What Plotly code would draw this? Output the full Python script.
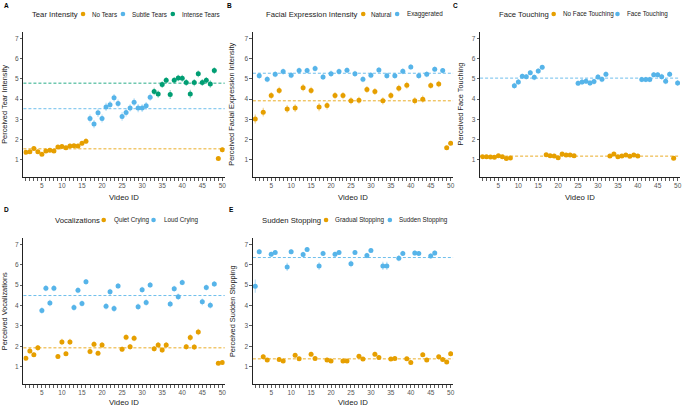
import plotly.graph_objects as go

W, H = 685, 409
FONT = "Liberation Sans, Arial, Helvetica, sans-serif"

video_ids = list(range(1, 51))
tick_labels = [str(v) if v % 5 == 0 else "" for v in video_ids]
x_label = "Video ID"

ORANGE = "#E69F00"
BLUE = "#56B4E9"
GREEN = "#009E73"

# ---------------- Panel A: Tear Intensity ----------------
a_title = "Tear Intensity"
a_ylabel = "Perceived Tear Intensity"
a_names = ["No Tears", "Subtle Tears", "Intense Tears"]
a_colors = [ORANGE, BLUE, GREEN]
a_group = [0] * 16 + [1] * 16 + [2] * 16 + [0] * 2
a_values = [1.38, 1.41, 1.57, 1.41, 1.28, 1.44, 1.48, 1.44, 1.64, 1.66,
            1.60, 1.69, 1.70, 1.69, 1.82, 1.93, 3.05, 2.77, 3.33, 3.05,
            3.62, 3.72, 4.07, 3.79, 3.15, 3.34, 3.57, 3.85, 3.56, 3.56,
            3.67, 4.10, 4.38, 4.25, 4.72, 4.93, 4.23, 4.93, 5.05, 5.03,
            4.82, 4.26, 4.82, 5.25, 4.82, 4.93, 4.75, 5.41, 1.07, 1.50]
a_err = [0.10, 0.09, 0.10, 0.09, 0.08, 0.09, 0.10, 0.09, 0.10, 0.11,
         0.10, 0.11, 0.10, 0.11, 0.12, 0.14, 0.20, 0.20, 0.21, 0.20,
         0.20, 0.19, 0.18, 0.19, 0.21, 0.20, 0.18, 0.19, 0.20, 0.19,
         0.19, 0.18, 0.18, 0.18, 0.17, 0.16, 0.22, 0.16, 0.16, 0.17,
         0.17, 0.21, 0.18, 0.17, 0.17, 0.16, 0.19, 0.17, 0.08, 0.12]
a_means = [1.55, 3.53, 4.79]

# ---------------- Panel B: Facial Expression Intensity ----------------
b_title = "Facial Expression Intensity"
b_ylabel = "Perceived Facial Expression Intensity"
b_names = ["Natural", "Exaggerated"]
b_colors = [ORANGE, BLUE]
b_group = [0, 1] * 24 + [0, 0]
b_values = [3.02, 5.16, 3.36, 4.98, 4.18, 5.23, 4.43, 5.36, 3.52, 5.18,
            3.56, 5.41, 4.57, 5.41, 4.43, 5.51, 3.61, 5.10, 3.69, 5.25,
            4.18, 5.36, 4.18, 5.43, 3.92, 5.25, 3.95, 4.98, 4.48, 5.18,
            4.38, 5.44, 3.92, 5.16, 4.18, 5.16, 4.54, 5.38, 4.69, 5.59,
            3.92, 5.16, 4.00, 5.23, 4.67, 5.48, 4.75, 5.41, 1.60, 1.82]
b_err = [0.22, 0.15, 0.22, 0.15, 0.18, 0.15, 0.18, 0.15, 0.19, 0.15,
         0.19, 0.15, 0.18, 0.14, 0.18, 0.15, 0.20, 0.15, 0.20, 0.16,
         0.18, 0.15, 0.18, 0.13, 0.17, 0.15, 0.17, 0.15, 0.17, 0.15,
         0.17, 0.14, 0.18, 0.15, 0.18, 0.15, 0.17, 0.15, 0.17, 0.13,
         0.17, 0.15, 0.18, 0.15, 0.16, 0.13, 0.16, 0.13, 0.09, 0.09]
b_means = [3.92, 5.28]

# ---------------- Panel C: Face Touching ----------------
c_title = "Face Touching"
c_ylabel = "Perceived Face Touching"
c_names = ["No Face Touching", "Face Touching"]
c_colors = [ORANGE, BLUE]
c_group = [0] * 8 + [1] * 8 + [0] * 8 + [1] * 8 + [0] * 8 + [1] * 8 + [0, 1]
c_values = [1.16, 1.16, 1.15, 1.13, 1.21, 1.16, 1.07, 1.10, 4.66, 4.85,
            5.13, 5.11, 5.31, 5.08, 5.39, 5.57, 1.26, 1.21, 1.20, 1.11,
            1.30, 1.25, 1.25, 1.21, 4.79, 4.85, 4.89, 4.80, 4.87, 5.10,
            4.98, 5.23, 1.20, 1.30, 1.16, 1.20, 1.25, 1.18, 1.25, 1.20,
            4.97, 4.97, 4.97, 5.21, 5.20, 5.11, 4.89, 5.23, 1.08, 4.80]
c_err = [0.07, 0.07, 0.07, 0.07, 0.08, 0.07, 0.06, 0.07, 0.15, 0.14,
         0.13, 0.13, 0.13, 0.14, 0.13, 0.12, 0.08, 0.08, 0.08, 0.07,
         0.08, 0.08, 0.08, 0.08, 0.13, 0.14, 0.14, 0.14, 0.14, 0.13,
         0.14, 0.13, 0.08, 0.08, 0.07, 0.08, 0.08, 0.07, 0.08, 0.08,
         0.14, 0.14, 0.14, 0.13, 0.13, 0.14, 0.15, 0.13, 0.07, 0.15]
c_means = [1.19, 5.04]

# ---------------- Panel D: Vocalizations ----------------
d_title = "Vocalizations"
d_ylabel = "Perceived Vocalizations"
d_names = ["Quiet Crying", "Loud Crying"]
d_colors = [ORANGE, BLUE]
d_group = ([0] * 4 + [1] * 4) * 6 + [0, 0]
d_values = [1.42, 1.78, 1.59, 1.93, 3.76, 4.85, 4.12, 4.85, 1.50, 2.22,
            1.64, 2.22, 3.90, 4.75, 4.10, 5.16, 1.75, 2.11, 1.67, 2.07,
            3.97, 4.67, 3.85, 4.96, 1.86, 2.45, 1.98, 2.40, 3.94, 4.77,
            4.15, 5.01, 1.88, 2.07, 1.82, 2.07, 4.08, 4.82, 4.43, 5.13,
            1.98, 2.43, 1.97, 2.71, 4.18, 4.88, 4.02, 5.06, 1.18, 1.21]
d_err = [0.10, 0.13, 0.11, 0.14, 0.16, 0.15, 0.16, 0.15, 0.11, 0.15,
         0.11, 0.15, 0.16, 0.15, 0.15, 0.14, 0.13, 0.14, 0.12, 0.14,
         0.16, 0.15, 0.17, 0.14, 0.13, 0.15, 0.14, 0.15, 0.16, 0.15,
         0.16, 0.14, 0.13, 0.14, 0.13, 0.14, 0.16, 0.15, 0.16, 0.14,
         0.14, 0.16, 0.14, 0.16, 0.16, 0.15, 0.16, 0.14, 0.07, 0.07]
d_means = [1.93, 4.49]

# ---------------- Panel E: Sudden Stopping ----------------
e_title = "Sudden Stopping"
e_ylabel = "Perceived Sudden Stopping"
e_names = ["Gradual Stopping", "Sudden Stopping"]
e_colors = [ORANGE, BLUE]
e_group = [1, 1] + [0, 0, 1, 1] * 11 + [0, 0, 0, 0]
e_values = [4.95, 6.63, 1.49, 1.33, 6.51, 6.60, 1.36, 1.28, 5.89, 6.63,
            1.57, 1.39, 6.50, 6.74, 1.62, 1.41, 5.93, 6.55, 1.34, 1.28,
            6.51, 6.60, 1.28, 1.28, 6.04, 6.60, 1.52, 1.38, 6.45, 6.69,
            1.62, 1.46, 5.94, 5.94, 1.38, 1.41, 6.32, 6.55, 1.39, 1.21,
            6.57, 6.55, 1.59, 1.34, 6.43, 6.57, 1.49, 1.36, 1.24, 1.64]
e_err = [0.33, 0.12, 0.11, 0.09, 0.12, 0.11, 0.10, 0.09, 0.20, 0.12,
         0.11, 0.10, 0.13, 0.10, 0.12, 0.10, 0.19, 0.13, 0.10, 0.09,
         0.12, 0.12, 0.09, 0.09, 0.17, 0.12, 0.11, 0.10, 0.13, 0.11,
         0.12, 0.10, 0.20, 0.20, 0.10, 0.10, 0.15, 0.13, 0.10, 0.09,
         0.12, 0.12, 0.11, 0.10, 0.13, 0.12, 0.10, 0.10, 0.09, 0.12]
e_means = [1.39, 6.35]


def rgba(hex_color, a):
    h = hex_color.lstrip("#")
    r, g, b = int(h[0:2], 16), int(h[2:4], 16), int(h[4:6], 16)
    return f"rgba({r},{g},{b},{a})"


# layout geometry (pixels)
panels = [
    dict(letter="A", title=a_title, ylabel=a_ylabel, names=a_names, colors=a_colors,
         group=a_group, values=a_values, err=a_err, means=a_means,
         xpx=(23.5, 225.4), ypx=(31.7, 177.0), letter_px=(2, 5), leg_y=14,
         ytitle_x=4.5, xtitle_y=197,
         leg_title_x=30, leg_dots=[83.3, 123.3, 173.3], leg_text=[90.7, 130.7, 180.7]),
    dict(letter="B", title=b_title, ylabel=b_ylabel, names=b_names, colors=b_colors,
         group=b_group, values=b_values, err=b_err, means=b_means,
         xpx=(253.6, 454.4), ypx=(31.7, 177.0), letter_px=(226, 5), leg_y=14,
         ytitle_x=232, xtitle_y=197,
         leg_title_x=264.3, leg_dots=[364.3, 398.3], leg_text=[370.3, 406.0]),
    dict(letter="C", title=c_title, ylabel=c_ylabel, names=c_names, colors=c_colors,
         group=c_group, values=c_values, err=c_err, means=c_means,
         xpx=(481.5, 682.0), ypx=(31.7, 177.0), letter_px=(452, 5), leg_y=14,
         ytitle_x=461.5, xtitle_y=197,
         leg_title_x=498.3, leg_dots=[555.3, 619.3], leg_text=[562.7, 627.3]),
    dict(letter="D", title=d_title, ylabel=d_ylabel, names=d_names, colors=d_colors,
         group=d_group, values=d_values, err=d_err, means=d_means,
         xpx=(23.5, 225.4), ypx=(237.5, 384.0), letter_px=(2, 209), leg_y=220,
         ytitle_x=4.5, xtitle_y=402.5,
         leg_title_x=52.7, leg_dots=[104.0, 154.0], leg_text=[112.0, 162.0]),
    dict(letter="E", title=e_title, ylabel=e_ylabel, names=e_names, colors=e_colors,
         group=e_group, values=e_values, err=e_err, means=e_means,
         xpx=(253.6, 454.4), ypx=(237.5, 384.0), letter_px=(228, 209), leg_y=220,
         ytitle_x=233, xtitle_y=402.5,
         leg_title_x=261.0, leg_dots=[327.0, 391.0], leg_text=[334.3, 398.3]),
]

fig = go.Figure()
layout = dict(
    width=W, height=H,
    margin=dict(l=0, r=0, t=0, b=0),
    paper_bgcolor="white", plot_bgcolor="white",
    font=dict(family=FONT, size=7, color="#222"),
    showlegend=False,
    hovermode=False,
)
annotations = []
shapes = []

for i, p in enumerate(panels):
    k = "" if i == 0 else str(i + 1)
    xa, ya = "x" + k, "y" + k
    for g, (name, color) in enumerate(zip(p["names"], p["colors"])):
        xs = [v for v, gg in zip(video_ids, p["group"]) if gg == g]
        ys = [v for v, gg in zip(p["values"], p["group"]) if gg == g]
        es = [v for v, gg in zip(p["err"], p["group"]) if gg == g]
        fig.add_trace(go.Scatter(
            x=xs, y=ys, mode="markers", name=name, xaxis=xa, yaxis=ya,
            marker=dict(color=color, size=5.0, line=dict(width=0)),
            error_y=dict(type="data", array=es, visible=True, color=rgba(color, 0.45),
                         thickness=1.1, width=0),
            showlegend=False,
        ))
        shapes.append(dict(
            type="line", xref=xa + " domain", yref=ya, x0=0, x1=1,
            y0=p["means"][g], y1=p["means"][g],
            line=dict(color=rgba(color, 0.85), width=1, dash="3px,2px"), layer="below",
        ))

    x0, x1 = p["xpx"]
    yt, yb = p["ypx"]
    layout["xaxis" + k] = dict(
        domain=[x0 / W, x1 / W], anchor=ya, range=[0.4, 50.6],
        tickmode="array", tickvals=video_ids, ticktext=tick_labels,
        ticks="outside", ticklen=2.5, tickwidth=0.8, tickcolor="#333",
        showline=True, linecolor="#222", linewidth=1, showgrid=False, zeroline=False,
        tickfont=dict(size=6.5, color="#555", family=FONT),
        fixedrange=True,
    )
    layout["yaxis" + k] = dict(
        domain=[1 - yb / H, 1 - yt / H], anchor=xa, range=[0.16, 7.33],
        tickmode="array", tickvals=[1, 2, 3, 4, 5, 6, 7],
        ticks="outside", ticklen=2.5, tickwidth=0.8, tickcolor="#333",
        showline=True, linecolor="#222", linewidth=1, showgrid=False, zeroline=False,
        tickfont=dict(size=6.5, color="#555", family=FONT),
        fixedrange=True,
    )

    # axis titles
    annotations.append(dict(
        text=x_label, xref="paper", yref="paper",
        x=(x0 + x1) / 2 / W, y=1 - p["xtitle_y"] / H, xanchor="center", yanchor="middle",
        showarrow=False, font=dict(size=7.8, color="#222", family=FONT),
    ))
    annotations.append(dict(
        text=p["ylabel"], xref="paper", yref="paper", textangle=-90,
        x=p["ytitle_x"] / W, y=1 - (yt + yb) / 2 / H, xanchor="center", yanchor="middle",
        showarrow=False, font=dict(size=7.4, color="#222", family=FONT),
    ))

    # panel letter
    lx, ly = p["letter_px"]
    annotations.append(dict(
        text="<b>" + p["letter"] + "</b>", xref="paper", yref="paper",
        x=lx / W, y=1 - ly / H, xanchor="left", yanchor="middle", showarrow=False,
        font=dict(size=6.5, color="#000", family=FONT),
    ))
    # legend (title + keys)
    annotations.append(dict(
        text=p["title"], xref="paper", yref="paper",
        x=p["leg_title_x"] / W, y=1 - p["leg_y"] / H, xanchor="left", yanchor="middle",
        showarrow=False, font=dict(size=7.7, color="#222", family=FONT),
    ))
    for name, color, dx, tx in zip(p["names"], p["colors"], p["leg_dots"], p["leg_text"]):
        shapes.append(dict(
            type="circle", xref="paper", yref="paper",
            xsizemode="pixel", ysizemode="pixel",
            xanchor=dx / W, yanchor=1 - p["leg_y"] / H,
            x0=-2.3, x1=2.3, y0=-2.3, y1=2.3,
            fillcolor=color, line=dict(width=0),
        ))
        annotations.append(dict(
            text=name, xref="paper", yref="paper",
            x=tx / W, y=1 - p["leg_y"] / H, xanchor="left", yanchor="middle",
            showarrow=False, font=dict(size=6.3, color="#222", family=FONT),
        ))

layout["annotations"] = annotations
layout["shapes"] = shapes
fig.update_layout(**layout)
fig.write_html(
    "out.html",
    config={"displayModeBar": False, "staticPlot": True},
    post_script="document.body.style.margin='0';document.body.style.padding='0';"
                "document.body.style.overflow='hidden';",
)
